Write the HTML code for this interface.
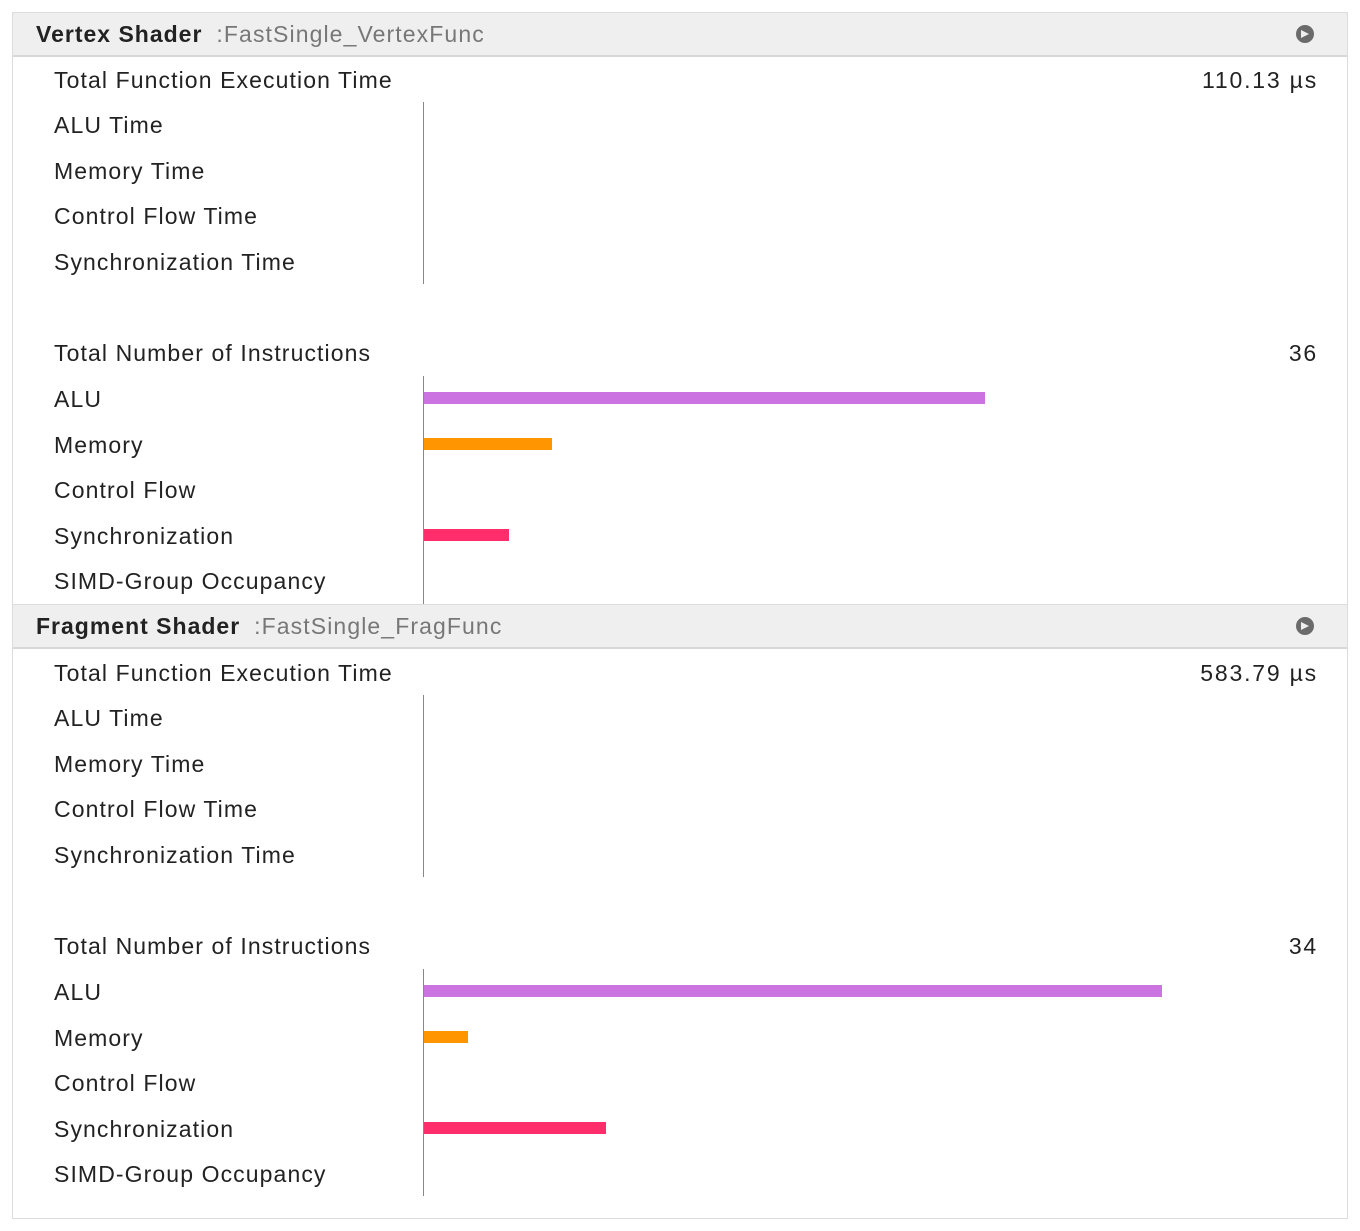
<!DOCTYPE html>
<html><head><meta charset="utf-8"><style>
body{margin:0;width:1360px;height:1231px;background:#fff;position:relative;font-family:"Liberation Sans",sans-serif;color:#222;overflow:hidden}
.box{position:absolute;left:12px;top:12px;width:1334px;height:1205px;border:1px solid #dcdcdc}
.hdr{position:absolute;left:13px;width:1334px;height:42px;background:#efefef;border-bottom:2px solid #d8d8d8;border-top:1px solid #dcdcdc}
.hdr b{position:absolute;left:23px;top:0;line-height:42px;font-size:23px;color:#222;letter-spacing:1px}
.hdr span{font-weight:normal;color:#777;margin-left:14px;letter-spacing:1.1px}
.ic{position:absolute;left:1283px;top:12px;width:18px;height:18px;border-radius:50%;background:#6b6b6b}
.ic:after{content:"";position:absolute;left:5px;top:5px;border-left:8px solid #efefef;border-top:4px solid transparent;border-bottom:4px solid transparent}
.t{position:absolute;left:54px;font-size:23px;line-height:30px;height:30px;white-space:nowrap;letter-spacing:1.1px}
.v{position:absolute;right:42px;font-size:23px;line-height:30px;white-space:nowrap;letter-spacing:1.8px}
.ln{position:absolute;left:423px;width:1px;background:#888}
.bar{position:absolute;left:424px;height:12px}
</style></head><body>
<div class="box"></div>

<div class="hdr" style="top:12px"><b>Vertex Shader<span>:FastSingle_VertexFunc</span></b><div class="ic"></div></div>
<div class="t" style="top:65px">Total Function Execution Time</div><div class="v" style="top:65px">110.13 µs</div>
<div class="t" style="top:110px">ALU Time</div>
<div class="t" style="top:156px">Memory Time</div>
<div class="t" style="top:201px">Control Flow Time</div>
<div class="t" style="top:247px">Synchronization Time</div>
<div class="ln" style="top:102px;height:182px"></div>
<div class="t" style="top:338px">Total Number of Instructions</div><div class="v" style="top:338px">36</div>
<div class="t" style="top:384px">ALU</div>
<div class="t" style="top:430px">Memory</div>
<div class="t" style="top:475px">Control Flow</div>
<div class="t" style="top:521px">Synchronization</div>
<div class="t" style="top:566px">SIMD-Group Occupancy</div>
<div class="ln" style="top:376px;height:228px"></div>
<div class="bar" style="top:392px;width:561px;background:#cb73e1"></div>
<div class="bar" style="top:438px;width:128px;background:#ff9500"></div>
<div class="bar" style="top:529px;width:85px;background:#ff2d6c"></div>

<div class="hdr" style="top:604px"><b>Fragment Shader<span>:FastSingle_FragFunc</span></b><div class="ic"></div></div>
<div class="t" style="top:658px">Total Function Execution Time</div><div class="v" style="top:658px">583.79 µs</div>
<div class="t" style="top:703px">ALU Time</div>
<div class="t" style="top:749px">Memory Time</div>
<div class="t" style="top:794px">Control Flow Time</div>
<div class="t" style="top:840px">Synchronization Time</div>
<div class="ln" style="top:695px;height:182px"></div>
<div class="t" style="top:931px">Total Number of Instructions</div><div class="v" style="top:931px">34</div>
<div class="t" style="top:977px">ALU</div>
<div class="t" style="top:1023px">Memory</div>
<div class="t" style="top:1068px">Control Flow</div>
<div class="t" style="top:1114px">Synchronization</div>
<div class="t" style="top:1159px">SIMD-Group Occupancy</div>
<div class="ln" style="top:969px;height:227px"></div>
<div class="bar" style="top:985px;width:738px;background:#cb73e1"></div>
<div class="bar" style="top:1031px;width:44px;background:#ff9500"></div>
<div class="bar" style="top:1122px;width:182px;background:#ff2d6c"></div>
</body></html>
